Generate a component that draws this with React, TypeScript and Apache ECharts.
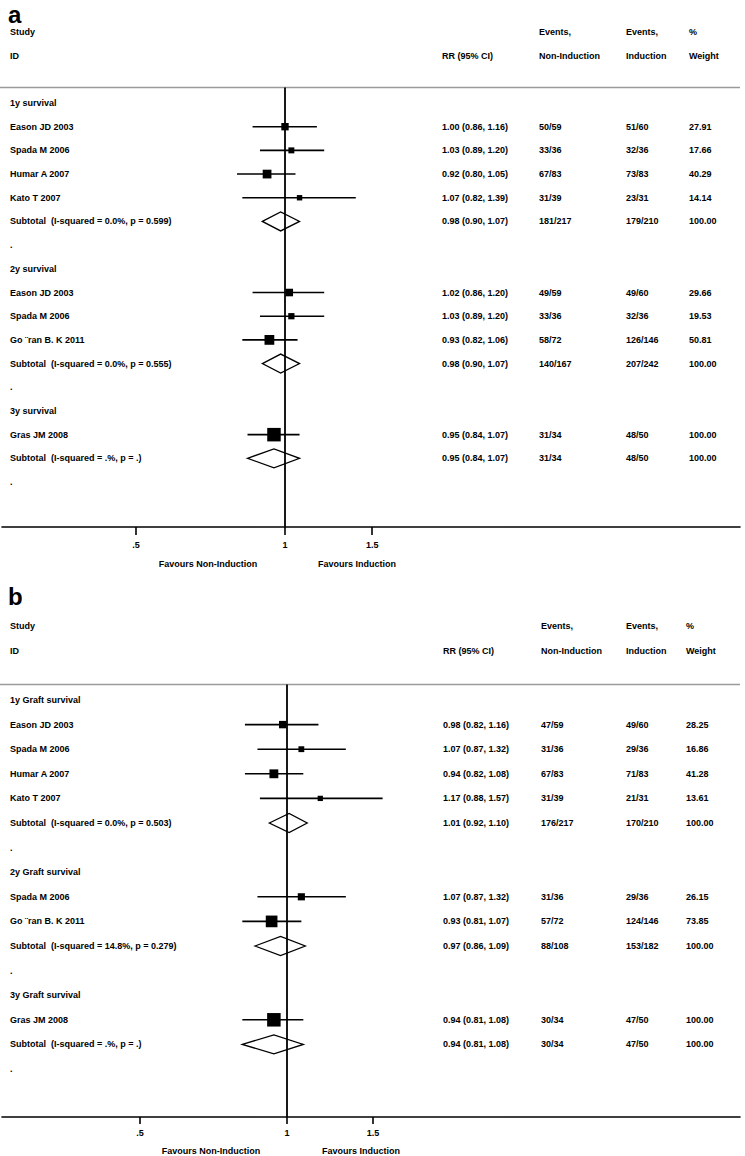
import React, { useEffect, useRef } from "react";
import * as echarts from "echarts";

const FONT = "'Liberation Sans', Arial, Helvetica, sans-serif";

// ---------- Panel a : survival ----------
const labelsA = [
  "1y survival",
  "Eason JD 2003",
  "Spada M 2006",
  "Humar A 2007",
  "Kato T 2007",
  "Subtotal  (I-squared = 0.0%, p = 0.599)",
  ".",
  "2y survival",
  "Eason JD 2003",
  "Spada M 2006",
  "Go ¨ran B. K 2011",
  "Subtotal  (I-squared = 0.0%, p = 0.555)",
  ".",
  "3y survival",
  "Gras JM 2008",
  "Subtotal  (I-squared = .%, p = .)",
  ".",
];
const rrA = [null, 1.0, 1.03, 0.92, 1.07, 0.98, null, null, 1.02, 1.03, 0.93, 0.98, null, null, 0.95, 0.95, null];
const loA = [null, 0.86, 0.89, 0.8, 0.82, 0.9, null, null, 0.86, 0.89, 0.82, 0.9, null, null, 0.84, 0.84, null];
const hiA = [null, 1.16, 1.2, 1.05, 1.39, 1.07, null, null, 1.2, 1.2, 1.06, 1.07, null, null, 1.07, 1.07, null];
const evNonA = ["", "50/59", "33/36", "67/83", "31/39", "181/217", "", "", "49/59", "33/36", "58/72", "140/167", "", "", "31/34", "31/34", ""];
const evIndA = ["", "51/60", "32/36", "73/83", "23/31", "179/210", "", "", "49/60", "32/36", "126/146", "207/242", "", "", "48/50", "48/50", ""];
const weightA = [null, 27.91, 17.66, 40.29, 14.14, 100.0, null, null, 29.66, 19.53, 50.81, 100.0, null, null, 100.0, 100.0, null];

// ---------- Panel b : graft survival ----------
const labelsB = [
  "1y Graft survival",
  "Eason JD 2003",
  "Spada M 2006",
  "Humar A 2007",
  "Kato T 2007",
  "Subtotal  (I-squared = 0.0%, p = 0.503)",
  ".",
  "2y Graft survival",
  "Spada M 2006",
  "Go ¨ran B. K 2011",
  "Subtotal  (I-squared = 14.8%, p = 0.279)",
  ".",
  "3y Graft survival",
  "Gras JM 2008",
  "Subtotal  (I-squared = .%, p = .)",
  ".",
];
const rrB = [null, 0.98, 1.07, 0.94, 1.17, 1.01, null, null, 1.07, 0.93, 0.97, null, null, 0.94, 0.94, null];
const loB = [null, 0.82, 0.87, 0.82, 0.88, 0.92, null, null, 0.87, 0.81, 0.86, null, null, 0.81, 0.81, null];
const hiB = [null, 1.16, 1.32, 1.08, 1.57, 1.1, null, null, 1.32, 1.07, 1.09, null, null, 1.08, 1.08, null];
const evNonB = ["", "47/59", "31/36", "67/83", "31/39", "176/217", "", "", "31/36", "57/72", "88/108", "", "", "30/34", "30/34", ""];
const evIndB = ["", "49/60", "29/36", "71/83", "21/31", "170/210", "", "", "29/36", "124/146", "153/182", "", "", "47/50", "47/50", ""];
const weightB = [null, 28.25, 16.86, 41.28, 13.61, 100.0, null, null, 26.15, 73.85, 100.0, null, null, 100.0, 100.0, null];

// ---------- Axis ----------
const tickValues = [0.5, 1, 1.5];
const tickLabels = [".5", "1", "1.5"];
const headerTop = ["Study", "", "Events,", "Events,", "%"];
const headerBottom = ["ID", "RR (95% CI)", "Non-Induction", "Induction", "Weight"];
const favoursLeft = "Favours Non-Induction";
const favoursRight = "Favours Induction";

type Panel = {
  letter: string;
  labels: string[];
  rr: (number | null)[];
  lo: (number | null)[];
  hi: (number | null)[];
  evNon: string[];
  evInd: string[];
  weight: (number | null)[];
  gridTop: number;
  axisY: number;
  row0: number;
  spacing: number;
  x1: number;
  pxPerLn: number;
  cols: number[];
  tickMargin: number;
  tickLen: number;
  favoursY: number;
  favoursX: [number, number];
  letterTop: number;
};

const panels: Panel[] = [
  {
    letter: "a",
    labels: labelsA, rr: rrA, lo: loA, hi: hiA, evNon: evNonA, evInd: evIndA, weight: weightA,
    gridTop: 20, axisY: 527, row0: 103, spacing: 23.69, x1: 285, pxPerLn: 215,
    cols: [10, 442, 539, 626, 689], tickMargin: 13, tickLen: 8, favoursY: 564,
    favoursX: [208, 357], letterTop: 2,
  },
  {
    letter: "b",
    labels: labelsB, rr: rrB, lo: loB, hi: hiB, evNon: evNonB, evInd: evIndB, weight: weightB,
    gridTop: 600, axisY: 1117, row0: 700, spacing: 24.6, x1: 287, pxPerLn: 212,
    cols: [10, 443, 541, 626, 686], tickMargin: 11, tickLen: 7, favoursY: 1151,
    favoursX: [211, 361], letterTop: 584,
  },
];

const GRID_LEFT = 2;
const GRID_RIGHT_X = 740;
const TEXT = { fill: "#000", font: `bold 9px ${FONT}` };

function buildOption() {
  const grid: any[] = [];
  const xAxis: any[] = [];
  const yAxis: any[] = [];
  const series: any[] = [];
  const graphic: any[] = [];

  panels.forEach((p, gi) => {
    const xmin = (GRID_LEFT - p.x1) / p.pxPerLn;
    const xmax = (GRID_RIGHT_X - p.x1) / p.pxPerLn;
    const ymin = (p.gridTop - p.row0) / p.spacing;
    const ymax = (p.axisY - p.row0) / p.spacing;
    const lineRow = -15.5 / p.spacing;

    grid.push({
      left: GRID_LEFT,
      width: GRID_RIGHT_X - GRID_LEFT,
      top: p.gridTop,
      height: p.axisY - p.gridTop,
      containLabel: false,
    });
    const lnTicks = tickValues.map((v) => Math.log(v));
    xAxis.push({
      type: "value",
      gridIndex: gi,
      min: xmin,
      max: xmax,
      splitLine: { show: false },
      axisLine: { show: true, onZero: false, lineStyle: { color: "#000", width: 1.6 } },
      axisTick: {
        show: true,
        length: p.tickLen,
        customValues: lnTicks,
        lineStyle: { color: "#000", width: 1.6 },
      },
      axisLabel: {
        show: true,
        customValues: lnTicks,
        margin: p.tickMargin,
        color: "#000",
        fontSize: 9,
        fontWeight: "bold",
        fontFamily: FONT,
        formatter: (v: number) => {
          let best = 0;
          lnTicks.forEach((t, k) => {
            if (Math.abs(t - v) < Math.abs(lnTicks[best] - v)) best = k;
          });
          return tickLabels[best];
        },
      },
    });
    yAxis.push({
      type: "value",
      gridIndex: gi,
      inverse: true,
      min: ymin,
      max: ymax,
      show: false,
      splitLine: { show: false },
    });

    series.push({
      type: "custom",
      xAxisIndex: gi,
      yAxisIndex: gi,
      clip: false,
      z: 2,
      data: p.labels.map((_, i) => [0, i]),
      renderItem: (params: any, api: any) => {
        const i = params.dataIndex;
        const row = api.value(1);
        const y = api.coord([0, row])[1];
        const children: any[] = [];
        children.push({
          type: "text",
          style: { ...TEXT, text: p.labels[i], x: p.cols[0], y, align: "left", verticalAlign: "middle" },
        });
        const rr = p.rr[i];
        const lo = p.lo[i];
        const hi = p.hi[i];
        if (rr != null && lo != null && hi != null) {
          const xr = api.coord([Math.log(rr), row])[0];
          const xl = api.coord([Math.log(lo), row])[0];
          const xh = api.coord([Math.log(hi), row])[0];
          const isSub = p.labels[i].startsWith("Subtotal");
          if (isSub) {
            const h = 9.5;
            children.push({
              type: "polygon",
              shape: { points: [[xl, y], [xr, y - h], [xh, y], [xr, y + h]] },
              style: { fill: "#fff", stroke: "#000", lineWidth: 1.3 },
            });
          } else {
            children.push({
              type: "line",
              shape: { x1: xl, y1: y, x2: xh, y2: y },
              style: { stroke: "#000", lineWidth: 1.6 },
            });
            const w = p.weight[i] || 0;
            const s = 1.3 * Math.sqrt(w) + 0.5;
            children.push({
              type: "rect",
              shape: { x: xr - s / 2, y: y - s / 2, width: s, height: s },
              style: { fill: "#000" },
            });
          }
          const rrText = `${rr.toFixed(2)} (${lo.toFixed(2)}, ${hi.toFixed(2)})`;
          const w = p.weight[i];
          const cells = [rrText, p.evNon[i], p.evInd[i], w != null ? w.toFixed(2) : ""];
          cells.forEach((t, k) => {
            children.push({
              type: "text",
              style: { ...TEXT, text: t, x: p.cols[k + 1], y, align: "left", verticalAlign: "middle" },
            });
          });
        }
        return { type: "group", children };
      },
    });

    series.push({
      type: "custom",
      xAxisIndex: gi,
      yAxisIndex: gi,
      clip: false,
      z: 3,
      data: [[0, lineRow]],
      renderItem: (params: any, api: any) => {
        const cs = params.coordSys;
        const top = api.coord([0, api.value(1)]);
        const bottom = api.coord([0, ymax]);
        const children: any[] = [];
        children.push({
          type: "line",
          shape: { x1: cs.x - 2, y1: top[1], x2: cs.x + cs.width, y2: top[1] },
          style: { stroke: "#9a9a9a", lineWidth: 1.6 },
        });
        children.push({
          type: "line",
          shape: { x1: top[0], y1: top[1], x2: bottom[0], y2: bottom[1] },
          style: { stroke: "#000", lineWidth: 1.8 },
        });
        const yTop = api.coord([0, -3])[1];
        const yBot = api.coord([0, -2])[1];
        headerTop.forEach((t, k) => {
          if (t)
            children.push({
              type: "text",
              style: { ...TEXT, text: t, x: p.cols[k], y: yTop, align: "left", verticalAlign: "middle" },
            });
        });
        headerBottom.forEach((t, k) => {
          children.push({
            type: "text",
            style: { ...TEXT, text: t, x: p.cols[k], y: yBot, align: "left", verticalAlign: "middle" },
          });
        });
        return { type: "group", children };
      },
    });

    graphic.push({
      type: "text",
      left: 8,
      top: p.letterTop,
      style: { text: p.letter, fill: "#000", font: `bold 24px ${FONT}` },
    });
    graphic.push({
      type: "text",
      x: p.favoursX[0],
      y: p.favoursY,
      style: { ...TEXT, text: favoursLeft, align: "center", verticalAlign: "middle" },
    });
    graphic.push({
      type: "text",
      x: p.favoursX[1],
      y: p.favoursY,
      style: { ...TEXT, text: favoursRight, align: "center", verticalAlign: "middle" },
    });
  });

  return {
    animation: false,
    backgroundColor: "#fff",
    grid,
    xAxis,
    yAxis,
    series,
    graphic,
  };
}

export default function App() {
  const ref = useRef<HTMLDivElement | null>(null);
  useEffect(() => {
    if (!ref.current) return;
    const chart = echarts.init(ref.current, undefined, { renderer: "svg" });
    chart.setOption(buildOption() as any);
    return () => chart.dispose();
  }, []);
  return (
    <div
      ref={ref}
      style={{ position: "absolute", left: 0, top: 0, width: 745, height: 1156, background: "#fff" }}
    />
  );
}
